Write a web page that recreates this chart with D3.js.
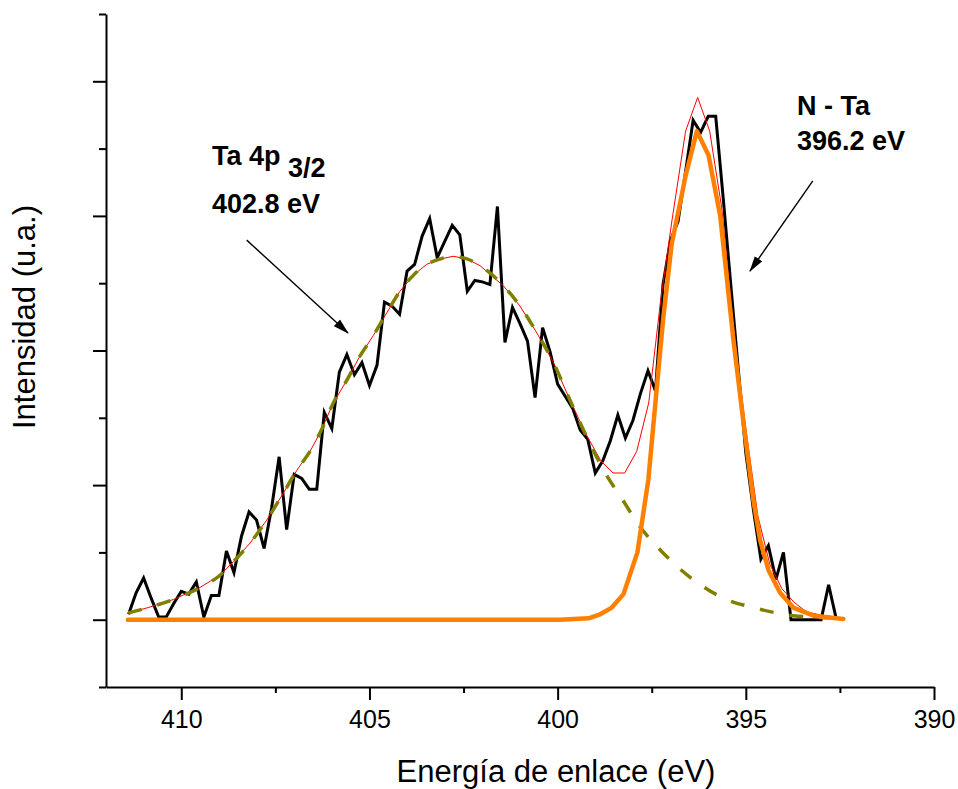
<!DOCTYPE html>
<html>
<head>
<meta charset="utf-8">
<script src="https://cdn.jsdelivr.net/npm/d3@7"></script>
<style>
  body { margin: 0; background: #fff; }
  text { font-family: "Liberation Sans", Arial, sans-serif; }
</style>
</head>
<body>
<div id="chart"></div>
<script>
const width = 958;
const height = 789;

// measured spectrum (binding energy in eV, intensity in arbitrary units)
const rawEnergy = [411.4, 411.2, 411.0, 410.8, 410.6, 410.4, 410.2, 410.0, 409.8, 409.6,
  409.4, 409.2, 409.0, 408.8, 408.6, 408.4, 408.2, 408.0, 407.8, 407.6,
  407.4, 407.2, 407.0, 406.8, 406.6, 406.4, 406.2, 406.0, 405.8, 405.6,
  405.4, 405.2, 405.0, 404.8, 404.6, 404.4, 404.2, 404.0, 403.8, 403.6,
  403.4, 403.2, 403.0, 402.8, 402.6, 402.4, 402.2, 402.0, 401.8, 401.6,
  401.4, 401.2, 401.0, 400.8, 400.6, 400.4, 400.2, 400.0, 399.8, 399.6,
  399.4, 399.2, 399.0, 398.8, 398.6, 398.4, 398.2, 398.0, 397.8, 397.6,
  397.4, 397.2, 397.0, 396.8, 396.6, 396.4, 396.2, 396.0, 395.8, 395.6,
  395.4, 395.2, 395.0, 394.8, 394.6, 394.4, 394.2, 394.0, 393.8, 393.6,
  393.4, 393.2, 393.0, 392.8, 392.6];
const rawCounts = [0.04, 0.20, 0.31, 0.16, 0.02, 0.02, 0.12, 0.21, 0.19, 0.28,
  0.02, 0.18, 0.18, 0.51, 0.35, 0.62, 0.80, 0.74, 0.53, 0.83,
  1.21, 0.67, 1.08, 1.05, 0.97, 0.97, 1.54, 1.42, 1.84, 1.97,
  1.82, 1.91, 1.74, 1.89, 2.36, 2.33, 2.27, 2.59, 2.64, 2.85,
  2.98, 2.69, 2.81, 2.93, 2.86, 2.44, 2.52, 2.51, 2.49, 3.07,
  2.06, 2.32, 2.20, 2.07, 1.65, 2.17, 1.99, 1.75, 1.66, 1.57,
  1.41, 1.34, 1.09, 1.18, 1.33, 1.52, 1.35, 1.48, 1.68, 1.85,
  1.70, 2.49, 2.82, 2.96, 3.33, 3.71, 3.62, 3.74, 3.74, 3.13,
  2.49, 1.86, 1.24, 0.82, 0.45, 0.55, 0.30, 0.50, 0.00, 0.00,
  0.00, 0.00, 0.00, 0.26, 0.01];

// Ta 4p3/2 component (dashed olive)
const ta4pEnergy = [411.41, 410.88, 410.21, 409.50, 408.97, 408.62, 408.17, 407.73, 407.29, 406.93,
  406.58, 406.31, 405.96, 405.60, 405.25, 404.90, 404.54, 404.19, 403.83, 403.48,
  403.12, 402.77, 402.41, 402.06, 401.44, 401.00, 400.55, 400.11, 399.67, 399.23,
  398.65, 398.34, 397.81, 397.28, 396.92, 396.21, 395.51, 394.80, 394.18, 393.74, 392.36];
const ta4pFit = [0.05, 0.09, 0.15, 0.24, 0.33, 0.43, 0.57, 0.74, 0.94, 1.11,
  1.25, 1.39, 1.61, 1.78, 1.96, 2.11, 2.28, 2.44, 2.56, 2.64,
  2.68, 2.70, 2.68, 2.63, 2.48, 2.33, 2.13, 1.91, 1.63, 1.36,
  1.05, 0.92, 0.69, 0.52, 0.42, 0.26, 0.15, 0.09, 0.05, 0.03, 0.01];

// N - Ta component (orange)
const ntaEnergy = [411.42, 399.94, 399.18, 398.87, 398.56, 398.25, 397.88, 397.59, 397.37, 397.19,
  396.97, 396.59, 396.30, 395.99, 395.68, 395.33, 395.06, 394.80, 394.62, 394.40,
  394.09, 393.74, 393.20, 392.41];
const ntaFit = [0, 0, 0.01, 0.04, 0.09, 0.19, 0.50, 1.04, 1.71, 2.25,
  2.79, 3.31, 3.63, 3.45, 3.00, 2.08, 1.46, 0.89, 0.59, 0.37,
  0.20, 0.09, 0.03, 0.005];

// total envelope (thin red)
const envEnergy = [411.41, 410.88, 410.21, 409.50, 408.97, 408.62, 408.17, 407.73, 407.29, 406.93,
  406.58, 406.31, 405.96, 405.60, 405.25, 404.90, 404.54, 404.19, 403.83, 403.48,
  403.12, 402.77, 402.41, 402.06, 401.44, 401.00, 400.55, 400.11, 399.67, 399.23,
  398.85, 398.53, 398.22, 397.90, 397.58, 397.26, 396.96, 396.60, 396.28, 395.96,
  395.64, 395.32, 395.00, 394.68, 394.36, 394.04, 393.72, 393.40, 393.03, 392.36];
const envFit = [0.05, 0.09, 0.15, 0.24, 0.33, 0.43, 0.57, 0.74, 0.94, 1.11,
  1.25, 1.39, 1.61, 1.78, 1.96, 2.11, 2.28, 2.44, 2.56, 2.64,
  2.68, 2.70, 2.68, 2.63, 2.48, 2.33, 2.13, 1.91, 1.63, 1.37,
  1.18, 1.09, 1.09, 1.25, 1.61, 2.38, 2.97, 3.63, 3.88, 3.63,
  3.06, 2.14, 1.42, 0.77, 0.41, 0.23, 0.13, 0.06, 0.035, 0.01];

const xMajorTicks = [410, 405, 400, 395, 390];
const xMinorTicks = [407.5, 402.5, 397.5, 392.5];
const yMajorTicks = [0, 1, 2, 3, 4];
const yMinorTicks = [-0.5, 0.5, 1.5, 2.5, 3.5, 4.5];

const svg = d3.select("#chart")
  .append("svg")
  .attr("width", width)
  .attr("height", height)
  .style("background", "#fff");

const x = d3.scaleLinear().domain([412, 390]).range([106, 934]);
const y = d3.scaleLinear().domain([-0.5, 4.5]).range([687, 14]);

const toPoints = (xs, ys) => xs.map((e, i) => [e, ys[i]]);

// axes
const xAxis = svg.append("g")
  .attr("transform", `translate(0,${y(-0.5)})`)
  .call(d3.axisBottom(x).tickValues(xMajorTicks).tickSize(13).tickSizeOuter(0).tickPadding(10.5).tickFormat(d3.format("d")));
xAxis.select(".domain").attr("stroke-width", 2);
xAxis.selectAll(".tick line").attr("stroke-width", 2);
xAxis.selectAll(".tick text")
  .style("font-family", "'Liberation Sans', Arial, sans-serif")
  .style("font-size", "25px")
  .attr("fill", "#000");

const xMinor = svg.append("g")
  .attr("transform", `translate(0,${y(-0.5)})`)
  .call(d3.axisBottom(x).tickValues(xMinorTicks).tickSize(6).tickSizeOuter(0).tickFormat(""));
xMinor.select(".domain").remove();
xMinor.selectAll(".tick line").attr("stroke-width", 2);

const yAxis = svg.append("g")
  .attr("transform", `translate(${x(412)},0)`)
  .call(d3.axisLeft(y).tickValues(yMajorTicks).tickSize(13).tickSizeOuter(0).tickFormat(""));
yAxis.select(".domain").attr("stroke-width", 2);
yAxis.selectAll(".tick line").attr("stroke-width", 2);

const yMinor = svg.append("g")
  .attr("transform", `translate(${x(412)},0)`)
  .call(d3.axisLeft(y).tickValues(yMinorTicks).tickSize(7).tickSizeOuter(0).tickFormat(""));
yMinor.select(".domain").remove();
yMinor.selectAll(".tick line").attr("stroke-width", 2);

// axis titles
svg.append("text")
  .attr("x", 556)
  .attr("y", 782)
  .attr("text-anchor", "middle")
  .style("font-size", "31px")
  .text("Energía de enlace (eV)");

svg.append("text")
  .attr("transform", "translate(35,317) rotate(-90)")
  .attr("text-anchor", "middle")
  .style("font-size", "31px")
  .text("Intensidad (u.a.)");

// curves
const line = d3.line().x(d => x(d[0])).y(d => y(d[1]));

svg.append("path")
  .datum(toPoints(rawEnergy, rawCounts))
  .attr("fill", "none")
  .attr("stroke", "#000")
  .attr("stroke-width", 3)
  .attr("stroke-linejoin", "miter")
  .attr("d", line);

svg.append("path")
  .datum(toPoints(envEnergy, envFit))
  .attr("fill", "none")
  .attr("stroke", "#ff0000")
  .attr("stroke-width", 1)
  .attr("d", line);

svg.append("path")
  .datum(toPoints(ta4pEnergy, ta4pFit))
  .attr("fill", "none")
  .attr("stroke", "#808000")
  .attr("stroke-width", 3.5)
  .attr("stroke-dasharray", "14,16")
  .attr("d", line.curve(d3.curveMonotoneX));

line.curve(d3.curveLinear);

svg.append("path")
  .datum(toPoints(ntaEnergy, ntaFit))
  .attr("fill", "none")
  .attr("stroke", "#ff8000")
  .attr("stroke-width", 4.5)
  .attr("stroke-linecap", "round")
  .attr("stroke-linejoin", "round")
  .attr("d", line);

// annotations
svg.append("defs").append("marker")
  .attr("id", "head")
  .attr("viewBox", "0 -5 16 10")
  .attr("refX", 15)
  .attr("refY", 0)
  .attr("markerWidth", 16)
  .attr("markerHeight", 10)
  .attr("markerUnits", "userSpaceOnUse")
  .attr("orient", "auto")
  .append("path")
  .attr("d", "M0,-4.5L16,0L0,4.5Z")
  .attr("fill", "#000");

const arrows = [
  { from: [408.26, 2.82], to: [405.57, 2.13] },
  { from: [393.22, 3.26], to: [394.89, 2.59] }
];
svg.selectAll(".arrow")
  .data(arrows)
  .enter().append("line")
  .attr("class", "arrow")
  .attr("x1", d => x(d.from[0]))
  .attr("y1", d => y(d.from[1]))
  .attr("x2", d => x(d.to[0]))
  .attr("y2", d => y(d.to[1]))
  .attr("stroke", "#000")
  .attr("stroke-width", 1.4)
  .attr("marker-end", "url(#head)");

const ta = svg.append("text")
  .attr("x", 212)
  .attr("y", 165)
  .style("font-size", "27px")
  .style("font-weight", "bold");
ta.append("tspan").text("Ta 4p ");
ta.append("tspan").attr("dy", 12).text("3/2");

svg.append("text")
  .attr("x", 212)
  .attr("y", 213)
  .style("font-size", "27px")
  .style("font-weight", "bold")
  .text("402.8 eV");

svg.append("text")
  .attr("x", 797)
  .attr("y", 115)
  .style("font-size", "27px")
  .style("font-weight", "bold")
  .text("N - Ta");

svg.append("text")
  .attr("x", 797)
  .attr("y", 150)
  .style("font-size", "27px")
  .style("font-weight", "bold")
  .text("396.2 eV");
</script>
</body>
</html>
